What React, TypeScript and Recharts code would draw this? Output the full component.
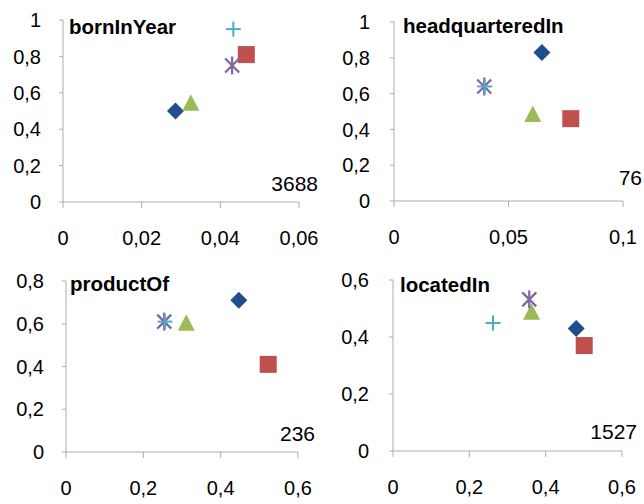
import { Scatter, ScatterChart, XAxis, YAxis } from "recharts";

// series order: diamond, square, triangle, star (asterisk), plus
type Marker = "diamond" | "square" | "triangle" | "star" | "plus";
const markers: Marker[] = ["diamond", "square", "triangle", "star", "plus"];
const markerColors = ["#1F4E8C", "#C0504D", "#9BBB59", "#8064A2", "#4BACC6"];

const bornInYearX = [0.0286, 0.0466, 0.0325, 0.043, 0.0433];
const bornInYearY = [0.5, 0.81, 0.54, 0.75, 0.95];

const headquarteredInX = [0.0646, 0.0772, 0.0606, 0.0394, 0.0396];
const headquarteredInY = [0.83, 0.46, 0.48, 0.64, 0.64];

const productOfX = [0.447, 0.523, 0.311, 0.254, 0.256];
const productOfY = [0.71, 0.41, 0.6, 0.61, 0.61];

const locatedInX = [0.48, 0.501, 0.363, 0.357, 0.262];
const locatedInY = [0.43, 0.37, 0.485, 0.532, 0.449];

const ticks006 = [0, 0.02, 0.04, 0.06];
const ticks01 = [0, 0.05, 0.1];
const ticks06 = [0, 0.2, 0.4, 0.6];
const ticks08 = [0, 0.2, 0.4, 0.6, 0.8];
const ticks1 = [0, 0.2, 0.4, 0.6, 0.8, 1];

const FONT = "'Liberation Sans', Arial, sans-serif";
const AXIS = "#ADADAD";

const fmt = (v: number) => String(v).replace(".", ",");

function renderMarker(kind: Marker, color: string) {
  return (p: any) => {
    const { cx, cy } = p;
    if (cx == null || cy == null) return <g />;
    switch (kind) {
      case "diamond":
        return (
          <polygon
            points={`${cx},${cy - 8.5} ${cx + 8.5},${cy} ${cx},${cy + 8.5} ${cx - 8.5},${cy}`}
            fill={color}
          />
        );
      case "square":
        return <rect x={cx - 8.5} y={cy - 8.5} width={17} height={17} fill={color} />;
      case "triangle":
        return (
          <polygon
            points={`${cx},${cy - 9.5} ${cx + 8.5},${cy + 7} ${cx - 8.5},${cy + 7}`}
            fill={color}
          />
        );
      case "star":
        return (
          <g stroke={color} strokeWidth={2.2}>
            <line x1={cx - 7} y1={cy - 7} x2={cx + 7} y2={cy + 7} />
            <line x1={cx - 7} y1={cy + 7} x2={cx + 7} y2={cy - 7} />
            <line x1={cx} y1={cy - 9} x2={cx} y2={cy + 9} />
          </g>
        );
      default:
        return (
          <g stroke={color} strokeWidth={2}>
            <line x1={cx - 7.5} y1={cy} x2={cx + 7.5} y2={cy} />
            <line x1={cx} y1={cy - 7.5} x2={cx} y2={cy + 7.5} />
          </g>
        );
    }
  };
}

interface PanelProps {
  xs: number[];
  ys: number[];
  xTicks: number[];
  yTicks: number[];
  left: number;
  top: number;
  margin: { top: number; right: number; bottom: number; left: number };
  yWidth: number;
  xLabelGap: number;
  yLabelGap: number;
}

function Panel({ xs, ys, xTicks, yTicks, left, top, margin, yWidth, xLabelGap, yLabelGap }: PanelProps) {
  const tick = { fill: "#000", fontSize: 20, fontFamily: FONT };
  return (
    <div style={{ position: "absolute", left, top }}>
      <ScatterChart width={322} height={252} margin={margin}>
        <XAxis
          type="number"
          dataKey="x"
          domain={[xTicks[0], xTicks[xTicks.length - 1]]}
          ticks={xTicks}
          interval={0}
          tickFormatter={fmt}
          stroke={AXIS}
          tickSize={6}
          tickMargin={xLabelGap}
          height={50}
          tick={tick}
        />
        <YAxis
          type="number"
          dataKey="y"
          domain={[yTicks[0], yTicks[yTicks.length - 1]]}
          ticks={yTicks}
          interval={0}
          tickFormatter={fmt}
          stroke={AXIS}
          tickSize={4}
          tickMargin={yLabelGap}
          width={yWidth}
          tick={tick}
        />
        {markers.map((m, i) => (
          <Scatter
            key={m}
            data={[{ x: xs[i], y: ys[i] }]}
            fill={markerColors[i]}
            shape={renderMarker(m, markerColors[i])}
            isAnimationActive={false}
          />
        ))}
      </ScatterChart>
    </div>
  );
}

export default function App() {
  return (
    <div
      style={{
        position: "absolute",
        left: 0,
        top: 0,
        width: 644,
        height: 504,
        background: "#fff",
        overflow: "hidden",
      }}
    >
      <Panel
        xs={bornInYearX}
        ys={bornInYearY}
        xTicks={ticks006}
        yTicks={ticks1}
        left={0}
        top={0}
        margin={{ top: 20, right: 23, bottom: 0, left: 0 }}
        yWidth={63}
        xLabelGap={23}
        yLabelGap={18}
      />
      <Panel
        xs={headquarteredInX}
        ys={headquarteredInY}
        xTicks={ticks01}
        yTicks={ticks1}
        left={322}
        top={0}
        margin={{ top: 22, right: 21, bottom: 1, left: 0 }}
        yWidth={72}
        xLabelGap={23}
        yLabelGap={20}
      />
      <Panel
        xs={productOfX}
        ys={productOfY}
        xTicks={ticks06}
        yTicks={ticks08}
        left={0}
        top={252}
        margin={{ top: 29, right: 24, bottom: 2, left: 0 }}
        yWidth={66}
        xLabelGap={23}
        yLabelGap={18}
      />
      <Panel
        xs={locatedInX}
        ys={locatedInY}
        xTicks={ticks06}
        yTicks={ticks06}
        left={322}
        top={252}
        margin={{ top: 28, right: 22, bottom: 3, left: 0 }}
        yWidth={71}
        xLabelGap={23}
        yLabelGap={20}
      />
      <svg
        width={644}
        height={504}
        style={{ position: "absolute", left: 0, top: 0, pointerEvents: "none" }}
        fontFamily={FONT}
      >
        <g fontWeight="bold" fontSize={20.5} fill="#000">
          <text x={69} y={34}>bornInYear</text>
          <text x={403} y={33}>headquarteredIn</text>
          <text x={70} y={291}>productOf</text>
          <text x={400} y={292}>locatedIn</text>
        </g>
        <g fontSize={21} fill="#000" textAnchor="end">
          <text x={318} y={191}>3688</text>
          <text x={642} y={185}>76</text>
          <text x={315} y={441}>236</text>
          <text x={637} y={439}>1527</text>
        </g>
      </svg>
    </div>
  );
}
